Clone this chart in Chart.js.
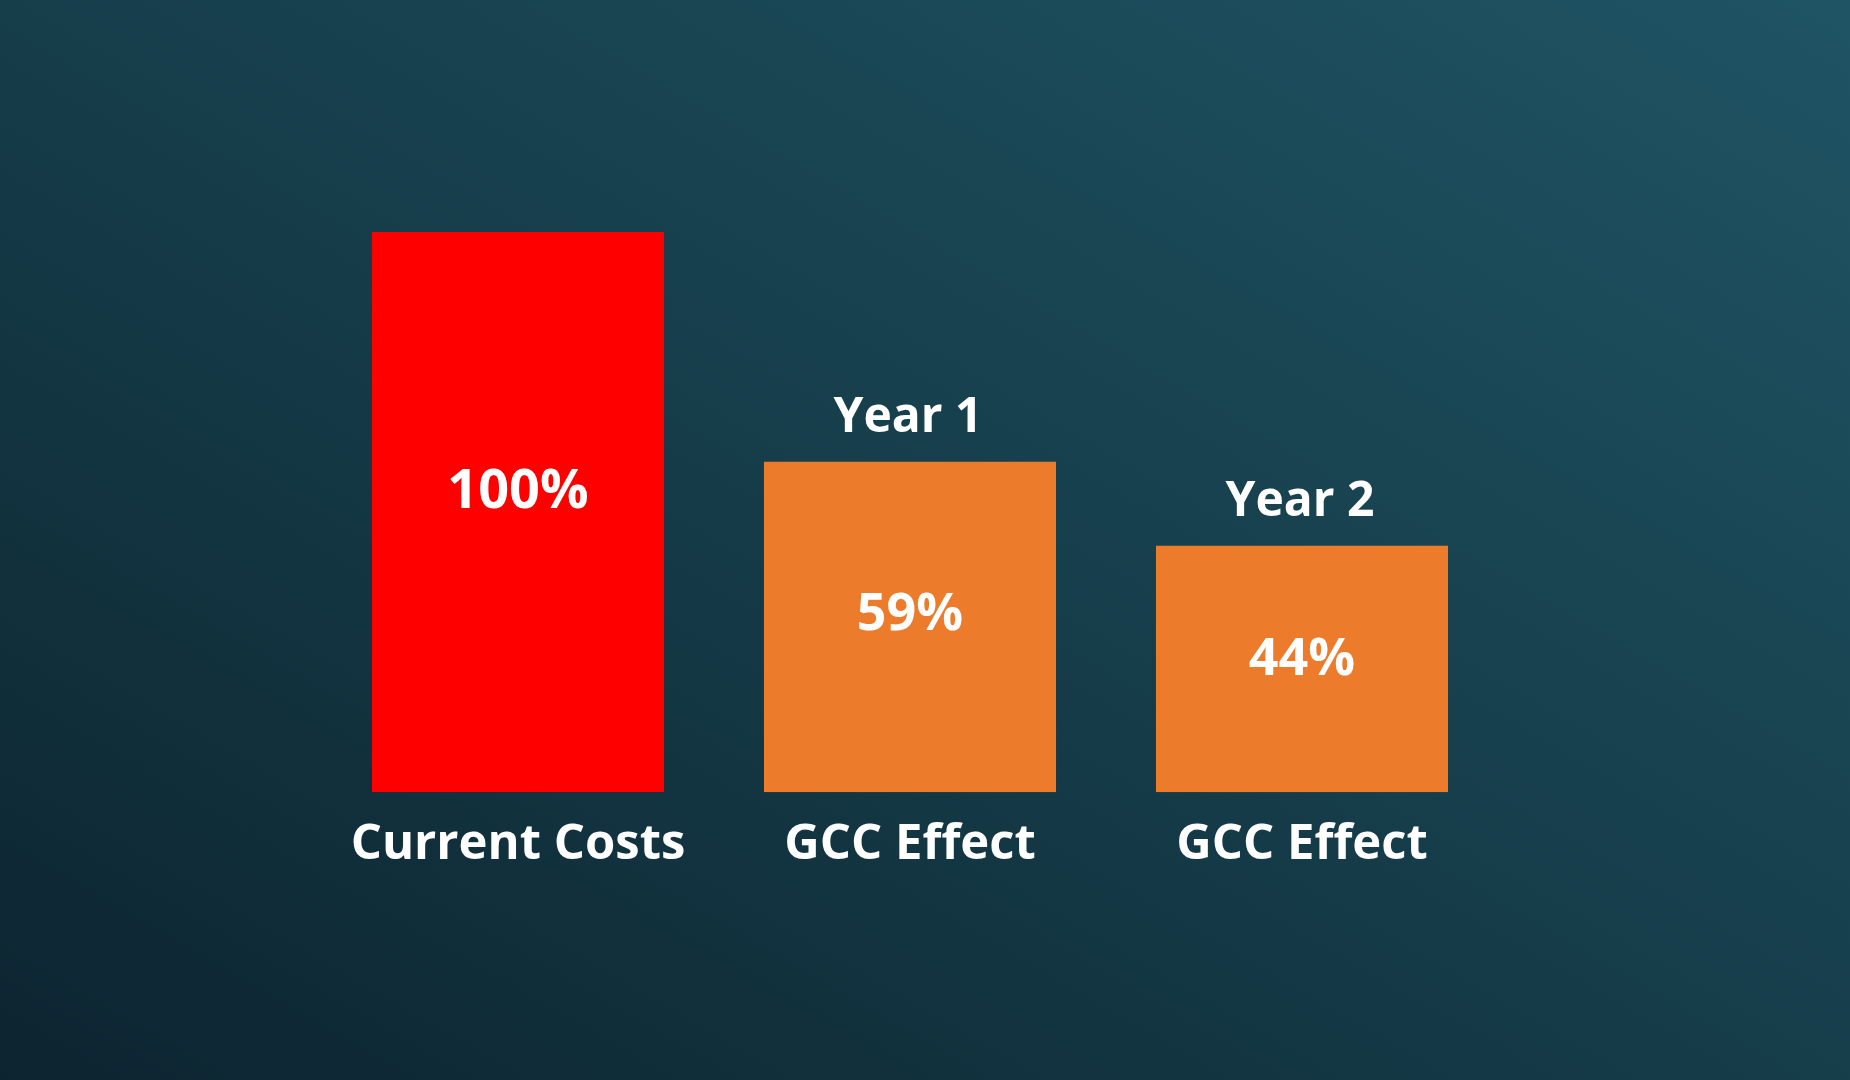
<!DOCTYPE html>
<html>
<head>
<meta charset="utf-8">
<script src="https://cdn.jsdelivr.net/npm/chart.js@4.4.1/dist/chart.umd.min.js"></script>
<style>
  html, body { margin: 0; padding: 0; width: 1850px; height: 1080px; overflow: hidden; }
  body { background: linear-gradient(to top right, #0c2430 0%, #163d4a 50%, #1f5464 100%); }
  #wrap { position: absolute; left: 0; top: 0; width: 1850px; height: 1080px; }
</style>
</head>
<body>
<div id="wrap"><canvas id="c" width="1850" height="1080"></canvas></div>
<script>
const categories = ["Current Costs", "GCC Effect", "GCC Effect"];
const values = [100, 59, 44];
const valueLabels = ["100%", "59%", "44%"];
const topLabels = ["", "Year 1", "Year 2"];
const barColors = ["#ff0000", "#ec7b2b", "#ec7b2b"];

const FONT = "'Open Sans', 'Noto Sans', sans-serif";

const labelPlugin = {
  id: 'barLabels',
  afterDatasetsDraw(chart) {
    const ctx = chart.ctx;
    const meta = chart.getDatasetMeta(0);
    ctx.save();
    ctx.fillStyle = '#ffffff';
    ctx.textAlign = 'center';
    meta.data.forEach((bar, i) => {
      const props = bar.getProps(['x', 'y', 'base'], true);
      // value label inside bar
      const size = values[i] === Math.max(...values) ? 54 : 52;
      ctx.font = `700 ${size}px ${FONT}`;
      ctx.textBaseline = 'middle';
      const yPos = props.y + (props.base - props.y) * 0.465;
      ctx.fillText(valueLabels[i], props.x, yPos);
      // label above bar
      if (topLabels[i]) {
        ctx.font = `700 48px ${FONT}`;
        ctx.textBaseline = 'alphabetic';
        ctx.fillText(topLabels[i], props.x - 2, props.y - 30);
      }
    });
    ctx.restore();
  }
};

new Chart(document.getElementById('c'), {
  type: 'bar',
  data: {
    labels: categories,
    datasets: [{
      data: values,
      backgroundColor: barColors,
      borderWidth: 0,
      categoryPercentage: 1.0,
      barPercentage: 0.745
    }]
  },
  options: {
    responsive: false,
    animation: false,
    devicePixelRatio: 1,
    layout: { padding: { left: 322, right: 352, top: 232, bottom: 183 } },
    plugins: { legend: { display: false }, tooltip: { enabled: false } },
    scales: {
      x: {
        grid: { display: false, drawTicks: false },
        border: { display: false },
        ticks: {
          color: '#ffffff',
          font: { family: FONT, size: 49, weight: '700' },
          padding: 23,
          maxRotation: 0,
          autoSkip: false
        }
      },
      y: {
        display: false,
        min: 0,
        max: 100
      }
    }
  },
  plugins: [labelPlugin]
});
</script>
</body>
</html>
